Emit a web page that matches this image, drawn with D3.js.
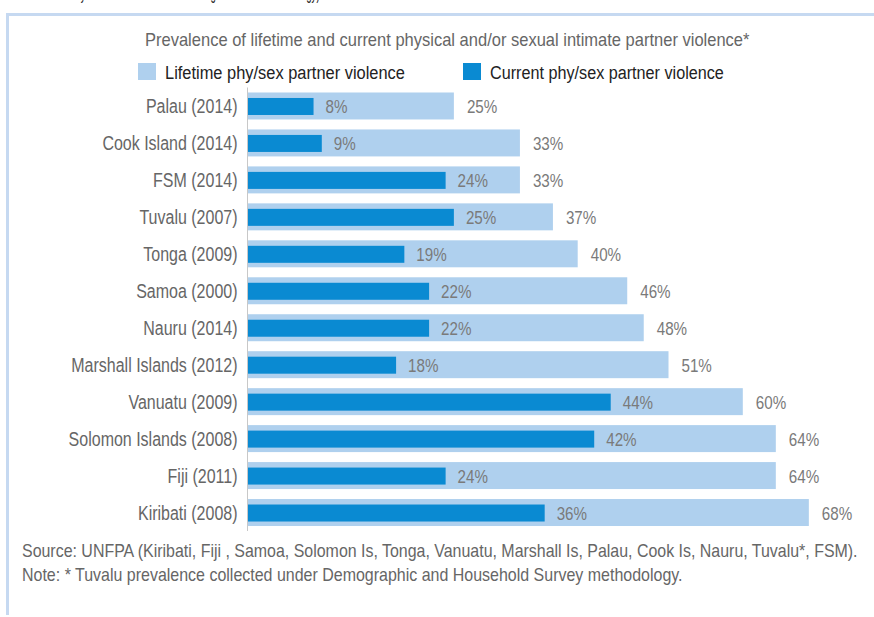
<!DOCTYPE html>
<html>
<head>
<meta charset="utf-8">
<script src="https://cdn.jsdelivr.net/npm/d3@7"></script>
<style>
  html, body { margin: 0; padding: 0; background: #fff; }
  svg { display: block; font-family: "Liberation Sans", Arial, sans-serif; }
</style>
</head>
<body>
<svg id="chart" width="874" height="617"></svg>
<script>
// Survey results, ordered top to bottom
const countries = [
  "Palau (2014)", "Cook Island (2014)", "FSM (2014)", "Tuvalu (2007)",
  "Tonga (2009)", "Samoa (2000)", "Nauru (2014)", "Marshall Islands (2012)",
  "Vanuatu (2009)", "Solomon Islands (2008)", "Fiji (2011)", "Kiribati (2008)"
];
const lifetime = [25, 33, 33, 37, 40, 46, 48, 51, 60, 64, 64, 68];
const current  = [8, 9, 24, 25, 19, 22, 22, 18, 44, 42, 24, 36];
const seriesNames = ["Lifetime phy/sex partner violence", "Current phy/sex partner violence"];

const title = "Prevalence of lifetime and current physical and/or sexual intimate partner violence*";
const sourceLines = [
  "Source: UNFPA (Kiribati, Fiji , Samoa, Solomon Is, Tonga, Vanuatu, Marshall Is, Palau, Cook Is, Nauru, Tuvalu*, FSM).",
  "Note: * Tuvalu prevalence collected under Demographic and Household Survey methodology."
];

const LIGHT = "#afd0ee";
const DARK = "#0a8ad2";
const NARROW = 0.82;   // horizontal squeeze to give a condensed face

// Squeeze each text horizontally, either by a factor or to a given width
function condense(sel, k, width) {
  sel.each(function () {
    const w = width != null ? width : this.getComputedTextLength() * k;
    d3.select(this).attr("textLength", w).attr("lengthAdjust", "spacingAndGlyphs");
  });
  return sel;
}

// Left-anchored text squeezed with a transform to a given width
function squeezedText(parent, str, x0, y0, width, size, fill) {
  const t = parent.append("text").attr("x", 0).attr("y", 0)
    .attr("font-size", size).attr("fill", fill).text(str);
  const natural = t.node().getComputedTextLength();
  t.attr("transform", `translate(${x0},${y0}) scale(${width / natural},1)`);
  return t;
}

const svg = d3.select("#chart");

// Line of running text above the panel, clipped by the page edge
squeezedText(svg, "surveys and studies conducted using the WHO methodology)", 57, -1, 263, 18, "#222");

// Panel frame (top and left rules)
svg.append("rect").attr("x", 6).attr("y", 13).attr("width", 868).attr("height", 3).attr("fill", "#c6d9f1");
svg.append("rect").attr("x", 6).attr("y", 13).attr("width", 3).attr("height", 602).attr("fill", "#c6d9f1");

// Scales
const x = d3.scaleLinear().domain([0, 100]).range([247.5, 1073]);
const y = d3.scaleBand().domain(countries).range([87.5, 531]).paddingInner(0.27).paddingOuter(0.135);

// Title
squeezedText(svg, title, 145, 46, 605, 17.5, "#666");

// Legend
const legend = svg.append("g");
const legendItems = [
  { name: seriesNames[0], color: LIGHT, x: 138, w: 240 },
  { name: seriesNames[1], color: DARK, x: 463, w: 234 }
];
legendItems.forEach(d => {
  legend.append("rect").attr("x", d.x).attr("y", 63).attr("width", 18).attr("height", 17).attr("fill", d.color);
  squeezedText(legend, d.name, d.x + 27, 79, d.w, 19, "#222");
});

const rows = countries.map((c, i) => ({ country: c, life: lifetime[i], cur: current[i] }));

// Lifetime bars
svg.append("g").selectAll("rect").data(rows).join("rect")
  .attr("x", x(0))
  .attr("y", d => y(d.country))
  .attr("width", d => x(d.life) - x(0))
  .attr("height", y.bandwidth())
  .attr("fill", LIGHT);

// Current bars, narrower and centred in each band
const innerH = 17;
svg.append("g").selectAll("rect").data(rows).join("rect")
  .attr("x", x(0))
  .attr("y", d => y(d.country) + (y.bandwidth() - innerH) / 2 + 0.5)
  .attr("width", d => x(d.cur) - x(0))
  .attr("height", innerH)
  .attr("fill", DARK);

// Category axis
const yAxis = d3.axisLeft(y).tickSize(0).tickPadding(10);
const gAxis = svg.append("g").attr("transform", `translate(${x(0)},0)`).call(yAxis);
gAxis.attr("font-family", null).attr("font-size", null);
gAxis.select(".domain").attr("stroke", "#c8c8c8").attr("stroke-width", 1)
  .attr("d", `M0,${y.range()[0]}V${y.range()[1]}`);
gAxis.selectAll("text")
  .attr("font-size", 19.5).attr("fill", "#666")
  .attr("dy", "0.37em")
  .call(condense, NARROW);

// Value labels
const valueFmt = v => v + "%";
svg.append("g").selectAll("text").data(rows).join("text")
  .attr("x", d => x(d.cur) + 12)
  .attr("y", d => y(d.country) + y.bandwidth() / 2 + 7.5)
  .attr("font-size", 18.5).attr("fill", "#7a7a7a")
  .text(d => valueFmt(d.cur))
  .call(condense, NARROW);
svg.append("g").selectAll("text").data(rows).join("text")
  .attr("x", d => x(d.life) + 13)
  .attr("y", d => y(d.country) + y.bandwidth() / 2 + 7.5)
  .attr("font-size", 18.5).attr("fill", "#7a7a7a")
  .text(d => valueFmt(d.life))
  .call(condense, NARROW);

// Source notes
const sourceWidths = [836, 661];
const notes = svg.append("g");
sourceLines.forEach((s, i) => squeezedText(notes, s, 22, 557 + i * 24, sourceWidths[i], 17.5, "#666"));
</script>
</body>
</html>
